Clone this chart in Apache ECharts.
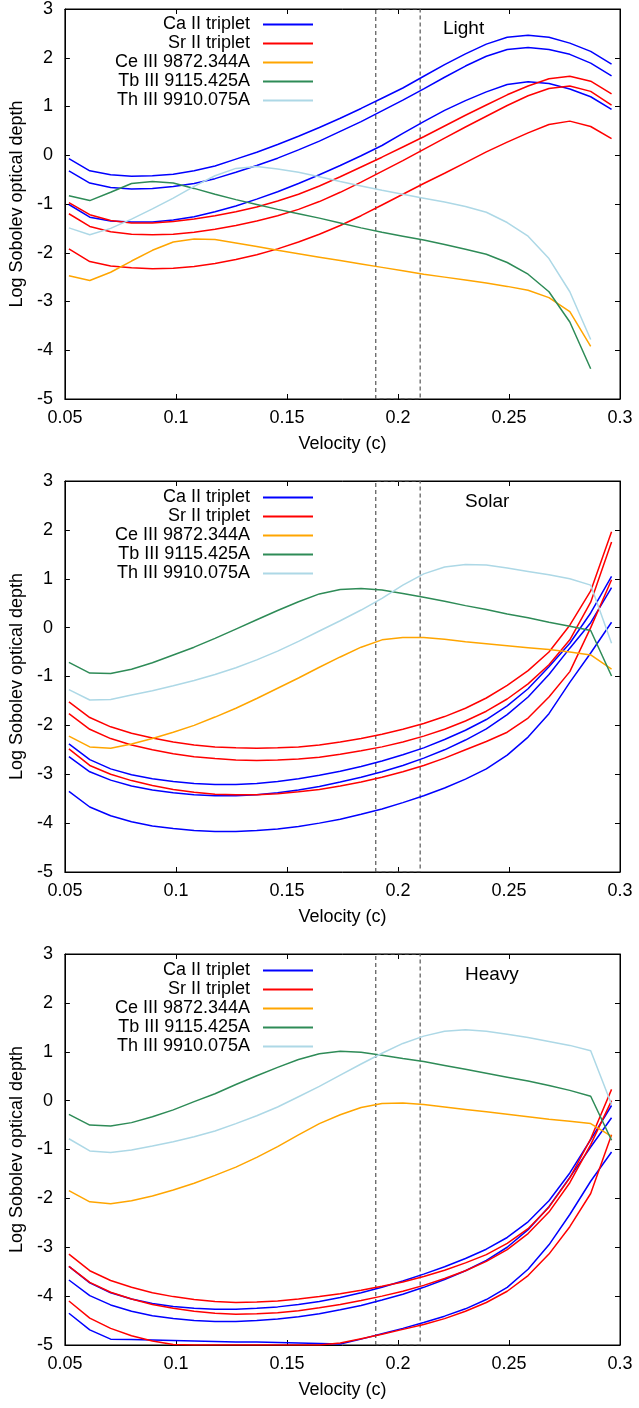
<!DOCTYPE html>
<html><head><meta charset="utf-8">
<script src="https://cdn.jsdelivr.net/npm/echarts@6/dist/echarts.min.js"></script>
<style>html,body{margin:0;padding:0;background:#fff}#c{width:639px;height:1408px}</style>
</head><body><div id="c"></div>
<script>
// velocity grid (c)
const vel = [0.0518,0.0612,0.0706,0.0800,0.0894,0.0988,0.1082,0.1176,0.1270,0.1364,0.1458,0.1552,0.1646,0.1740,0.1834,0.1928,0.2022,0.2116,0.2210,0.2304,0.2398,0.2492,0.2586,0.2680,0.2774,0.2868,0.2962];

// Light
const lightCa1 = [-0.07,-0.32,-0.40,-0.43,-0.42,-0.39,-0.32,-0.22,-0.08,0.06,0.22,0.39,0.57,0.76,0.96,1.17,1.38,1.62,1.86,2.08,2.28,2.42,2.46,2.42,2.30,2.13,1.87];
const lightCa2 = [-0.32,-0.57,-0.66,-0.69,-0.68,-0.64,-0.58,-0.48,-0.35,-0.21,-0.06,0.11,0.29,0.49,0.69,0.91,1.13,1.36,1.60,1.83,2.03,2.17,2.21,2.17,2.07,1.89,1.63];
const lightCa3 = [-1.01,-1.27,-1.35,-1.37,-1.37,-1.33,-1.26,-1.16,-1.04,-0.90,-0.75,-0.58,-0.40,-0.21,-0.01,0.20,0.45,0.69,0.92,1.12,1.30,1.45,1.51,1.47,1.36,1.20,0.94];
const lightSr1 = [-0.97,-1.22,-1.34,-1.39,-1.39,-1.36,-1.31,-1.24,-1.16,-1.06,-0.94,-0.80,-0.63,-0.44,-0.24,-0.04,0.17,0.38,0.60,0.82,1.03,1.24,1.42,1.57,1.62,1.52,1.26];
const lightSr2 = [-1.20,-1.46,-1.57,-1.62,-1.63,-1.62,-1.58,-1.52,-1.44,-1.35,-1.24,-1.11,-0.95,-0.76,-0.55,-0.33,-0.11,0.12,0.35,0.58,0.80,1.02,1.22,1.37,1.42,1.31,1.03];
const lightSr3 = [-1.92,-2.18,-2.27,-2.31,-2.33,-2.32,-2.28,-2.22,-2.14,-2.04,-1.92,-1.78,-1.62,-1.44,-1.24,-1.02,-0.80,-0.58,-0.37,-0.15,0.07,0.27,0.46,0.63,0.70,0.59,0.34];
const lightCe  = [-2.47,-2.57,-2.40,-2.17,-1.95,-1.78,-1.72,-1.73,-1.80,-1.87,-1.95,-2.02,-2.09,-2.16,-2.23,-2.30,-2.37,-2.44,-2.50,-2.56,-2.62,-2.69,-2.77,-2.92,-3.21,-3.92,null];
const lightTb  = [-0.83,-0.93,-0.76,-0.58,-0.54,-0.57,-0.68,-0.80,-0.91,-1.01,-1.11,-1.20,-1.29,-1.39,-1.49,-1.58,-1.66,-1.74,-1.83,-1.93,-2.03,-2.20,-2.44,-2.80,-3.42,-4.38,null];
const lightTh  = [-1.49,-1.63,-1.50,-1.31,-1.10,-0.88,-0.64,-0.42,-0.27,-0.23,-0.28,-0.35,-0.44,-0.54,-0.63,-0.72,-0.80,-0.88,-0.96,-1.05,-1.17,-1.38,-1.66,-2.12,-2.80,-3.78,null];

// Solar
const solarCa1 = [-2.38,-2.70,-2.89,-3.01,-3.09,-3.15,-3.19,-3.21,-3.21,-3.19,-3.15,-3.09,-3.02,-2.94,-2.84,-2.73,-2.60,-2.46,-2.29,-2.10,-1.88,-1.60,-1.25,-0.80,-0.32,0.30,1.05];
const solarCa2 = [-2.64,-2.95,-3.12,-3.24,-3.32,-3.38,-3.42,-3.44,-3.44,-3.42,-3.38,-3.32,-3.25,-3.16,-3.06,-2.95,-2.82,-2.67,-2.50,-2.30,-2.07,-1.78,-1.42,-0.96,-0.42,0.10,0.82];
const solarCa3 = [-3.35,-3.67,-3.85,-3.97,-4.06,-4.11,-4.15,-4.17,-4.17,-4.15,-4.12,-4.07,-4.00,-3.92,-3.82,-3.71,-3.58,-3.44,-3.28,-3.10,-2.89,-2.61,-2.24,-1.76,-1.12,-0.52,0.11];
const solarSr1 = [-1.52,-1.84,-2.03,-2.16,-2.26,-2.34,-2.40,-2.44,-2.46,-2.47,-2.46,-2.44,-2.40,-2.34,-2.27,-2.18,-2.08,-1.96,-1.82,-1.65,-1.44,-1.18,-0.88,-0.50,0.05,0.75,1.96];
const solarSr2 = [-1.76,-2.08,-2.27,-2.40,-2.50,-2.58,-2.64,-2.68,-2.71,-2.72,-2.71,-2.69,-2.65,-2.59,-2.52,-2.44,-2.34,-2.22,-2.08,-1.91,-1.71,-1.46,-1.15,-0.76,-0.25,0.52,1.75];
const solarSr3 = [-2.48,-2.82,-3.00,-3.13,-3.23,-3.31,-3.37,-3.41,-3.42,-3.42,-3.40,-3.36,-3.31,-3.24,-3.16,-3.06,-2.95,-2.82,-2.67,-2.50,-2.33,-2.14,-1.85,-1.42,-0.90,0.00,0.98];
const solarCe  = [-2.22,-2.44,-2.47,-2.38,-2.27,-2.14,-2.00,-1.83,-1.65,-1.45,-1.24,-1.03,-0.81,-0.60,-0.40,-0.25,-0.20,-0.20,-0.24,-0.29,-0.33,-0.37,-0.41,-0.45,-0.50,-0.56,-0.85];
const solarTb  = [-0.71,-0.93,-0.94,-0.85,-0.72,-0.56,-0.40,-0.22,-0.03,0.16,0.35,0.53,0.69,0.78,0.80,0.77,0.70,0.62,0.54,0.45,0.37,0.28,0.20,0.11,0.03,-0.06,-0.99];
const solarTh  = [-1.27,-1.48,-1.47,-1.38,-1.29,-1.19,-1.08,-0.96,-0.82,-0.66,-0.48,-0.28,-0.07,0.14,0.36,0.60,0.87,1.10,1.24,1.29,1.28,1.22,1.15,1.08,1.00,0.87,-0.32];

// Heavy
const heavyCa1 = [-3.39,-3.73,-3.93,-4.06,-4.15,-4.21,-4.25,-4.27,-4.27,-4.25,-4.22,-4.17,-4.11,-4.03,-3.93,-3.82,-3.69,-3.55,-3.40,-3.23,-3.04,-2.80,-2.48,-2.05,-1.48,-0.80,-0.10];
const heavyCa2 = [-3.67,-3.99,-4.18,-4.31,-4.40,-4.46,-4.50,-4.52,-4.52,-4.50,-4.47,-4.42,-4.36,-4.28,-4.19,-4.08,-3.96,-3.82,-3.66,-3.48,-3.27,-3.00,-2.64,-2.17,-1.57,-0.95,-0.35];
const heavyCa3 = [-4.35,-4.69,-4.88,-4.89,-4.90,-4.91,-4.92,-4.93,-4.94,-4.94,-4.95,-4.96,-4.97,-4.98,-4.88,-4.77,-4.66,-4.54,-4.41,-4.26,-4.07,-3.82,-3.45,-2.95,-2.33,-1.65,-1.05];
const heavySr1 = [-3.14,-3.48,-3.68,-3.82,-3.93,-4.01,-4.07,-4.11,-4.13,-4.12,-4.10,-4.06,-4.01,-3.95,-3.88,-3.80,-3.71,-3.60,-3.47,-3.32,-3.15,-2.92,-2.62,-2.18,-1.58,-0.78,0.23];
const heavySr2 = [-3.39,-3.72,-3.92,-4.06,-4.17,-4.25,-4.31,-4.35,-4.37,-4.36,-4.34,-4.30,-4.24,-4.17,-4.09,-4.00,-3.90,-3.78,-3.64,-3.48,-3.29,-3.05,-2.72,-2.28,-1.68,-0.90,0.00];
const heavySr3 = [-4.10,-4.45,-4.66,-4.81,-4.92,-4.99,-5.00,-5.00,-5.00,-5.00,-5.00,-5.00,-5.00,-4.96,-4.87,-4.78,-4.68,-4.58,-4.46,-4.31,-4.13,-3.90,-3.58,-3.14,-2.58,-1.90,-0.70];
const heavyCe  = [-1.84,-2.07,-2.11,-2.05,-1.95,-1.83,-1.69,-1.53,-1.36,-1.16,-0.94,-0.70,-0.47,-0.29,-0.14,-0.06,-0.05,-0.08,-0.13,-0.18,-0.23,-0.28,-0.33,-0.38,-0.42,-0.47,-0.73];
const heavyTb  = [-0.28,-0.50,-0.52,-0.45,-0.33,-0.19,-0.02,0.14,0.33,0.51,0.68,0.84,0.96,1.01,0.99,0.93,0.86,0.80,0.72,0.64,0.56,0.48,0.40,0.31,0.21,0.09,-0.81];
const heavyTh  = [-0.78,-1.03,-1.06,-1.01,-0.93,-0.84,-0.74,-0.62,-0.47,-0.31,-0.13,0.08,0.29,0.52,0.75,0.97,1.17,1.32,1.42,1.45,1.42,1.36,1.29,1.21,1.13,1.02,-0.08];

// dashed window
const boxVel = [0.19, 0.21];

const panelTitles = ['Light', 'Solar', 'Heavy'];
const legendNames = ['Ca II triplet', 'Sr II triplet', 'Ce III 9872.344A', 'Tb III 9115.425A', 'Th III 9910.075A'];
const xTickLabels = ['0.05', '0.1', '0.15', '0.2', '0.25', '0.3'];
const yTickLabels = ['-5', '-4', '-3', '-2', '-1', '0', '1', '2', '3'];

const panels = [
  {ca: [lightCa1, lightCa2, lightCa3], sr: [lightSr1, lightSr2, lightSr3], ce: lightCe, tb: lightTb, th: lightTh},
  {ca: [solarCa1, solarCa2, solarCa3], sr: [solarSr1, solarSr2, solarSr3], ce: solarCe, tb: solarTb, th: solarTh},
  {ca: [heavyCa1, heavyCa2, heavyCa3], sr: [heavySr1, heavySr2, heavySr3], ce: heavyCe, tb: heavyTb, th: heavyTh}
];

const colors = ['#0000ff', '#ff0000', '#ffa500', '#2e8b57', '#add8e6'];
const FONT = 'Liberation Sans';
const FS = 18;
const gridLeft = 61, gridWidth = 559, gridHeight = 391;
const gridTops = [8, 481, 954];

const pts = ys => vel.map((v, i) => [v, ys[i]]);

const grid = [], xAxis = [], yAxis = [], series = [], legend = [], title = [];
gridTops.forEach((top, p) => {
  grid.push({left: gridLeft, top: top, width: gridWidth, height: gridHeight,
    show: true, borderColor: '#000', borderWidth: 1, backgroundColor: 'transparent'});
  const xBase = {gridIndex: p, type: 'value', min: 0.05, max: 0.3, interval: 0.05,
    splitLine: {show: false}, axisLine: {onZero: false, lineStyle: {color: '#000', width: 1}},
    axisTick: {inside: true, length: 5, lineStyle: {color: '#000'}}};
  xAxis.push(Object.assign({}, xBase, {position: 'bottom',
    name: 'Velocity (c)', nameLocation: 'middle', nameGap: 36,
    nameTextStyle: {fontFamily: FONT, fontSize: FS, color: '#000'},
    axisLabel: {margin: 10, fontFamily: FONT, fontSize: FS, color: '#000',
      formatter: v => xTickLabels[Math.round((v - 0.05) / 0.05)]}}));
  xAxis.push(Object.assign({}, xBase, {position: 'top', axisLabel: {show: false}}));
  const yBase = {gridIndex: p, type: 'value', min: -5, max: 3, interval: 1,
    splitLine: {show: false}, axisLine: {onZero: false, lineStyle: {color: '#000', width: 1}},
    axisTick: {inside: true, length: 5, lineStyle: {color: '#000'}}};
  yAxis.push(Object.assign({}, yBase, {position: 'left',
    name: 'Log Sobolev optical depth', nameLocation: 'middle', nameGap: 34, nameRotate: 90,
    nameTextStyle: {fontFamily: FONT, fontSize: FS, color: '#000'},
    axisLabel: {margin: 12, fontFamily: FONT, fontSize: FS, color: '#000',
      formatter: v => yTickLabels[Math.round(v + 5)]}}));
  yAxis.push(Object.assign({}, yBase, {position: 'right', axisLabel: {show: false}}));

  const xi = p * 2, yi = p * 2;
  series.push({type: 'line', name: 'window', xAxisIndex: xi, yAxisIndex: yi, symbol: 'none',
    silent: true, animation: false,
    data: [[boxVel[0], -5], [boxVel[0], 3], [boxVel[1], 3], [boxVel[1], -5], [boxVel[0], -5]],
    lineStyle: {color: '#555', width: 1.2, type: [4, 3]}});
  const pn = panels[p];
  const add = (ys, k) => series.push({type: 'line', name: legendNames[k], xAxisIndex: xi, yAxisIndex: yi,
    symbol: 'none', animation: false, data: pts(ys), color: colors[k],
    lineStyle: {color: colors[k], width: 1.5}});
  pn.ca.forEach(a => add(a, 0));
  pn.sr.forEach(a => add(a, 1));
  add(pn.ce, 2); add(pn.tb, 3); add(pn.th, 4);

  legend.push({data: legendNames, orient: 'vertical', right: 326, top: top + 7,
    align: 'right', icon: 'rect', itemWidth: 50, itemHeight: 2, itemGap: 0, padding: 0,
    selectedMode: false,
    textStyle: {fontFamily: FONT, fontSize: FS, color: '#000', lineHeight: 19, padding: [0, 8, 0, 0]}});
  title.push({text: panelTitles[p], left: p === 0 ? 443 : 465, top: top + 11, padding: 0,
    textStyle: {fontFamily: FONT, fontSize: 19, fontWeight: 'normal', color: '#000'}});
});

const chart = echarts.init(document.getElementById('c'), null, {renderer: 'canvas'});
chart.setOption({animation: false, backgroundColor: '#fff', grid, xAxis, yAxis, series, legend, title});
</script>
</body></html>
